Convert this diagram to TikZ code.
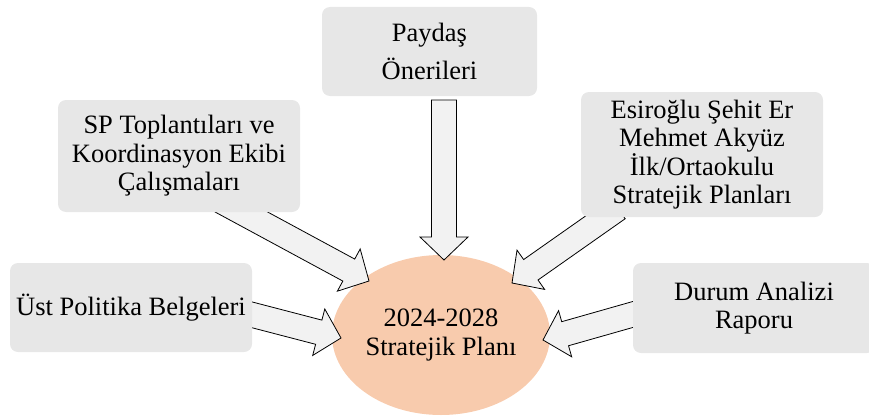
\documentclass[tikz,border=0pt]{standalone}
\usepackage{fontspec}
\setmainfont{Liberation Serif}
\usetikzlibrary{calc}
\definecolor{boxgray}{HTML}{E7E7E7}
\definecolor{arrgray}{HTML}{F2F2F2}
\definecolor{peach}{HTML}{F8CBAD}
\tikzset{
  srcbox/.style={draw=none, fill=boxgray, rounded corners=8pt, align=center, inner sep=0pt,
    font=\fontsize{26.5}{28.5}\selectfont},
  centre/.style={ellipse, draw=none, fill=peach, align=center, inner sep=0pt,
    font=\fontsize{26.5}{28.5}\selectfont},
  blockarrow/.style={draw=black, fill=arrgray, line width=0.8pt, line join=miter}
}
\usetikzlibrary{shapes.geometric}
\newcommand\blockarr[2]{%
  \coordinate (hb) at ($(#2)!23pt!(#1)$);
  \draw[blockarrow] ($(#1)!12.5pt!90:(#2)$) -- ($(hb)!12.5pt!90:(#2)$) -- ($(hb)!24pt!90:(#2)$)
    -- (#2) -- ($(hb)!24pt!-90:(#2)$) -- ($(hb)!12.5pt!-90:(#2)$) -- ($(#1)!12.5pt!-90:(#2)$) -- cycle;}
\begin{document}
\begin{tikzpicture}[x=1pt,y=1pt]
\useasboundingbox (0,0) rectangle (869,416);
% centre ellipse
\node[centre, minimum width=218pt, minimum height=160pt] (plan) at (441,81) {2024-2028\\Stratejik Planı};
% arrow end points
\coordinate (tPay) at (444,316);   \coordinate (hPay) at (444,156);
\coordinate (tSP)  at (221,215);   \coordinate (hSP) at (369,135);
\coordinate (tEsi) at (618,207.5); \coordinate (hEsi) at (512,133);
\coordinate (tUst) at (245,103);   \coordinate (hUst) at (341,78);
\coordinate (tDur) at (638,103);   \coordinate (hDur) at (543,76);
\blockarr{tPay}{hPay}
\blockarr{tSP}{hSP}
\blockarr{tEsi}{hEsi}
\blockarr{tUst}{hUst}
\blockarr{tDur}{hDur}
% source boxes
\node[srcbox, minimum width=215pt, minimum height=89pt] (pay) at (429.5,364.5) {Paydaş\\[9.5pt]Önerileri};
\node[srcbox, minimum width=242pt, minimum height=112pt] (sp) at (179,260) {SP Toplantıları ve\\Koordinasyon Ekibi\\Çalışmaları};
\node[srcbox, minimum width=242pt, minimum height=125pt] (esi) at (702,261.5) {Esiroğlu Şehit Er\\Mehmet Akyüz\\İlk/Ortaokulu\\Stratejik Planları};
\node[srcbox, minimum width=242pt, minimum height=89pt] (ust) at (131,108.5) {Üst Politika Belgeleri};
\node[srcbox, minimum width=242pt, minimum height=90pt] (dur) at (754,108) {Durum Analizi\\Raporu};
\end{tikzpicture}
\end{document}
